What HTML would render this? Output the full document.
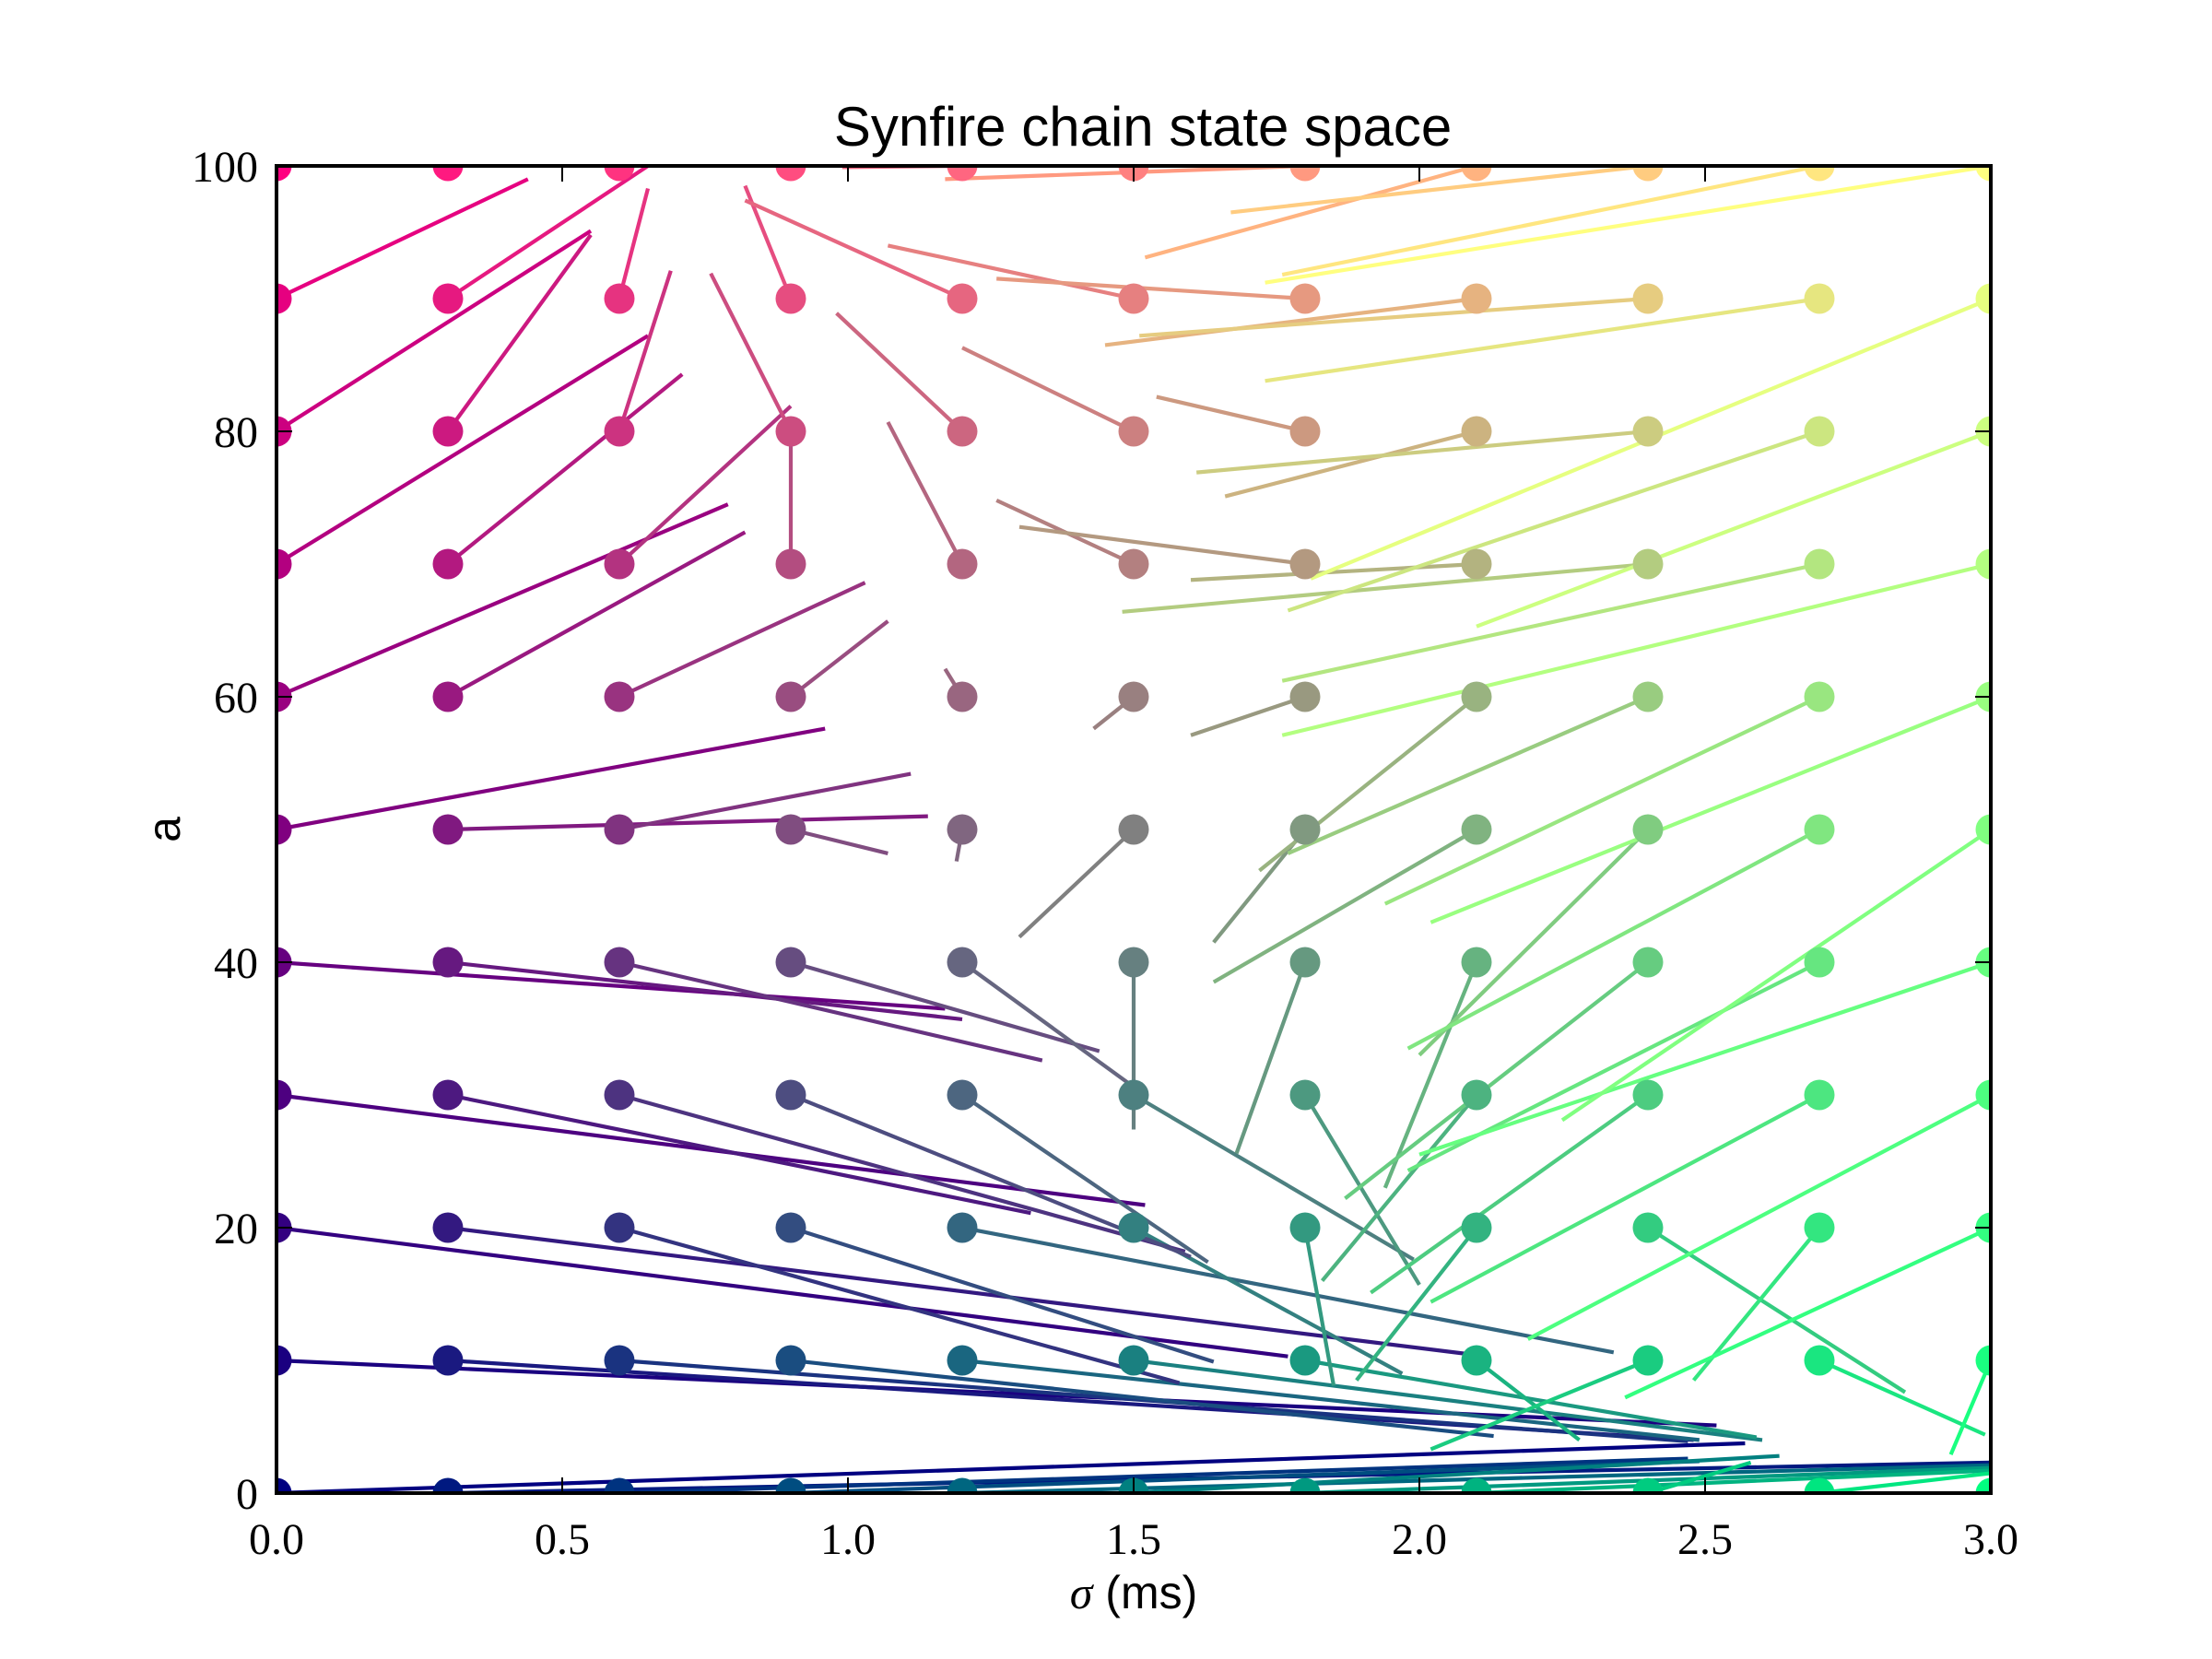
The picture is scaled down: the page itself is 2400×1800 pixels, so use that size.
<!DOCTYPE html>
<html><head><meta charset="utf-8"><style>
html,body{margin:0;padding:0;background:#fff;}
svg{display:block;}
</style></head><body>
<svg id="chart" width="2400" height="1800" viewBox="0 0 2400 1800" xmlns="http://www.w3.org/2000/svg">
<defs><clipPath id="axclip"><rect x="300" y="180" width="1860" height="1440"/></clipPath></defs>
<rect x="0" y="0" width="2400" height="1800" fill="#fff"/>
<text x="1240" y="158" text-anchor="middle" font-family="Liberation Sans, sans-serif" font-size="60">Synfire chain state space</text>
<g id="lines" clip-path="url(#axclip)"></g>
<g id="dots" clip-path="url(#axclip)"></g>
<rect x="300" y="180" width="1860" height="1440" fill="none" stroke="#000" stroke-width="4"/>
<g id="ticks"></g>
<text x="1230" y="1745" text-anchor="middle" font-size="50"><tspan font-family="Liberation Serif, serif" font-style="italic">σ</tspan><tspan font-family="Liberation Sans, sans-serif"> (ms)</tspan></text>
<text x="0" y="0" transform="translate(195,900) rotate(-90)" text-anchor="middle" font-family="Liberation Sans, sans-serif" font-size="50">a</text>
</svg>
<script>
const sigmas = [0, 0.3, 0.6, 0.9, 1.2, 1.5, 1.8, 2.1, 2.4, 2.7, 3.0];
const amps = [0, 10, 20, 30, 40, 50, 60, 70, 80, 90, 100];
const xTicks = [0, 0.5, 1.0, 1.5, 2.0, 2.5, 3.0];
const xTickLabels = ["0.0", "0.5", "1.0", "1.5", "2.0", "2.5", "3.0"];
const yTicks = [0, 20, 40, 60, 80, 100];
const yTickLabels = ["0", "20", "40", "60", "80", "100"];
// end-point sigma per row (rows = amps index), columns = sigmas index
const endSigma = [
  [2.57, 3.0, 2.47, 2.49, 3.0, 2.63, 3.0, 3.0, 2.58, 3.0, 3.0],
  [2.52, 2.48, 2.47, 2.13, 2.49, 2.60, 2.59, 2.28, 2.02, 2.99, 2.93],
  [1.77, 2.10, 1.58, 1.64, 2.34, 1.97, 1.85, 1.89, 2.85, 2.48, 2.36],
  [1.52, 1.32, 1.59, 1.60, 1.63, 1.99, 2.00, 1.83, 1.915, 2.02, 2.19],
  [1.17, 1.20, 1.34, 1.44, 1.50, 1.50, 1.68, 1.94, 1.87, 1.98, 2.00],
  [0.96, 1.14, 1.11, 1.07, 1.19, 1.30, 1.64, 1.64, 2.00, 1.98, 2.25],
  [0.79, 0.82, 1.03, 1.07, 1.17, 1.43, 1.60, 1.72, 1.77, 1.94, 2.02],
  [0.65, 0.71, 0.90, 0.90, 1.07, 1.26, 1.30, 1.60, 1.48, 1.76, 1.76],
  [0.55, 0.55, 0.69, 0.76, 0.98, 1.20, 1.54, 1.66, 1.61, 1.77, 2.10],
  [0.44, 0.65, 0.65, 0.82, 0.82, 1.07, 1.26, 1.45, 1.51, 1.73, 1.81],
  [0.0, 0.3, 0.6, 0.9, 0.99, 1.5, 1.17, 1.52, 1.67, 1.76, 1.73]
];
const endAmp = [
  [3.75, 2.3, 2.6, 2.4, 2.1, 2.8, 1.9, 1.7, 2.3, 1.5, 0.0],
  [5.1, 4.0, 3.9, 4.3, 4.0, 4.0, 4.2, 4.0, 3.3, 4.4, 2.9],
  [10.3, 10.4, 8.3, 9.9, 10.6, 9.0, 8.1, 8.5, 7.6, 8.5, 7.2],
  [21.7, 21.1, 18.2, 17.8, 17.4, 17.6, 15.7, 16.0, 15.1, 14.4, 11.6],
  [36.5, 35.7, 32.6, 33.3, 30.6, 27.4, 25.6, 23.0, 22.2, 24.3, 25.5],
  [57.6, 51.0, 54.2, 48.2, 47.6, 41.9, 41.5, 38.5, 33.0, 33.5, 28.1],
  [74.5, 72.4, 68.6, 65.7, 62.1, 57.6, 57.1, 46.9, 48.2, 44.4, 43.0],
  [87.2, 84.3, 81.9, 79.5, 80.7, 74.8, 72.8, 68.8, 66.4, 61.2, 57.1],
  [95.1, 94.8, 92.1, 91.9, 88.9, 86.3, 82.6, 75.1, 76.9, 66.5, 65.3],
  [99.0, 100, 98.3, 98.5, 97.4, 94.0, 91.5, 86.5, 87.2, 83.8, 68.9],
  [100, 100, 100, 100, 99.9, 100, 99.0, 93.1, 96.5, 91.8, 91.2]
];

const NS = "http://www.w3.org/2000/svg";
const X0 = 300, X1 = 2160, Y0 = 1620, Y1 = 180;
function xPos(s) { return X0 + (s - 0) / 3 * (X1 - X0); }
function yPos(a) { return Y0 - (a - 0) / 100 * (Y0 - Y1); }
function colorFor(s, a) {
  const r = Math.round(Math.min(1, Math.max(0, a / 100)) * 255);
  const g = Math.round(Math.min(1, Math.max(0, s / 3)) * 255);
  return "rgb(" + r + "," + g + ",128)";
}
const linesG = document.getElementById("lines");
const dotsG = document.getElementById("dots");
for (let i = 0; i < amps.length; i++) {
  for (let j = 0; j < sigmas.length; j++) {
    const s = sigmas[j], a = amps[i];
    const c = colorFor(s, a);
    const ln = document.createElementNS(NS, "line");
    ln.setAttribute("x1", xPos(s));
    ln.setAttribute("y1", yPos(a));
    ln.setAttribute("x2", xPos(endSigma[i][j]));
    ln.setAttribute("y2", yPos(endAmp[i][j]));
    ln.setAttribute("stroke", c);
    ln.setAttribute("stroke-width", "4.2");
    
    
    linesG.appendChild(ln);
  }
}
for (let i = 0; i < amps.length; i++) {
  for (let j = 0; j < sigmas.length; j++) {
    const s = sigmas[j], a = amps[i];
    const dot = document.createElementNS(NS, "circle");
    dot.setAttribute("cx", xPos(s));
    dot.setAttribute("cy", yPos(a));
    dot.setAttribute("r", "16.5");
    dot.setAttribute("fill", colorFor(s, a));
    
    
    dotsG.appendChild(dot);
  }
}
const ticksG = document.getElementById("ticks");
const TL = 17;
for (let k = 0; k < xTicks.length; k++) {
  const x = xPos(xTicks[k]);
  const t1 = document.createElementNS(NS, "line");
  t1.setAttribute("x1", x); t1.setAttribute("x2", x);
  t1.setAttribute("y1", Y0); t1.setAttribute("y2", Y0 - TL);
  t1.setAttribute("stroke", "#000"); t1.setAttribute("stroke-width", "2");
  
  
  ticksG.appendChild(t1);
  const t2 = document.createElementNS(NS, "line");
  t2.setAttribute("x1", x); t2.setAttribute("x2", x);
  t2.setAttribute("y1", Y1); t2.setAttribute("y2", Y1 + TL);
  t2.setAttribute("stroke", "#000"); t2.setAttribute("stroke-width", "2");
  
  
  ticksG.appendChild(t2);
  const lb = document.createElementNS(NS, "text");
  lb.setAttribute("x", x); lb.setAttribute("y", 1686);
  lb.setAttribute("text-anchor", "middle");
  lb.setAttribute("font-family", "Liberation Serif, serif");
  lb.setAttribute("font-size", "48");
  lb.textContent = xTickLabels[k];
  
  
  ticksG.appendChild(lb);
}
for (let k = 0; k < yTicks.length; k++) {
  const y = yPos(yTicks[k]);
  const t1 = document.createElementNS(NS, "line");
  t1.setAttribute("x1", X0); t1.setAttribute("x2", X0 + TL);
  t1.setAttribute("y1", y); t1.setAttribute("y2", y);
  t1.setAttribute("stroke", "#000"); t1.setAttribute("stroke-width", "2");
  
  
  ticksG.appendChild(t1);
  const t2 = document.createElementNS(NS, "line");
  t2.setAttribute("x1", X1); t2.setAttribute("x2", X1 - TL);
  t2.setAttribute("y1", y); t2.setAttribute("y2", y);
  t2.setAttribute("stroke", "#000"); t2.setAttribute("stroke-width", "2");
  
  
  ticksG.appendChild(t2);
  const lb = document.createElementNS(NS, "text");
  lb.setAttribute("x", 280); lb.setAttribute("y", y + 17);
  lb.setAttribute("text-anchor", "end");
  lb.setAttribute("font-family", "Liberation Serif, serif");
  lb.setAttribute("font-size", "48");
  lb.textContent = yTickLabels[k];
  
  
  ticksG.appendChild(lb);
}
</script>
</body></html>
